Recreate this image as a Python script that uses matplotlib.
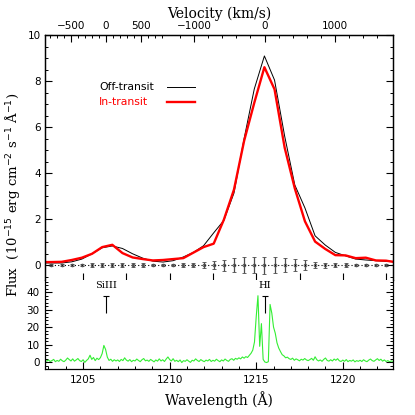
import numpy as np
import matplotlib.pyplot as plt

# binned Lyman-alpha profiles (upper panel), uniform bins
bin_start = 1202.589
bin_step = 0.5856
off_flux = [0.09, 0.09, 0.09, 0.14, 0.26, 0.49, 0.75, 0.83, 0.72, 0.49, 0.30, 0.17,
            0.13, 0.19, 0.35, 0.55, 0.84, 1.40, 1.94, 3.13, 5.50, 7.65, 9.09, 8.04,
            5.60, 3.48, 2.48, 1.27, 0.87, 0.55, 0.40, 0.26, 0.22, 0.19, 0.16, 0.14]
in_flux = [0.13, 0.13, 0.14, 0.22, 0.32, 0.49, 0.78, 0.88, 0.52, 0.33, 0.26, 0.20,
           0.22, 0.26, 0.30, 0.54, 0.78, 0.93, 1.97, 3.28, 5.40, 7.05, 8.60, 7.64,
           5.10, 3.33, 1.90, 1.02, 0.70, 0.43, 0.42, 0.30, 0.32, 0.20, 0.19, 0.12]
diff_val = [0.0] * 36
diff_err = [0.05, 0.05, 0.05, 0.05, 0.06, 0.07, 0.08, 0.08, 0.08, 0.07, 0.07, 0.06,
            0.06, 0.06, 0.07, 0.09, 0.12, 0.17, 0.24, 0.29, 0.33, 0.36, 0.37, 0.35,
            0.32, 0.27, 0.20, 0.15, 0.11, 0.08, 0.07, 0.06, 0.05, 0.05, 0.05, 0.05]

# high resolution spectrum (lower panel)
hr_start = 1202.8
hr_step = 0.1
hr_flux = [1.0, 0.5, 1.2, 0.3, 0.8, 1.5, 0.2, 0.9, 0.4, 1.6, 0.7, 0.2,
           1.1, 2.3, 1.4, 0.6, 1.8, 0.5, 1.2, 2.0, 0.8, 0.3,
           1.3, -0.2, 0.9, 1.8, 3.9, 1.5, 2.6, 0.8, 2.2, 1.4,
           2.5, 4.8, 9.5, 7.2, 2.8, 0.9, 1.6, 0.4, 1.3, 0.6,
           1.2, 0.3, 1.5, 0.8, 2.4, 1.1, 0.5, 1.4, 0.2, 1.0,
           0.6, 1.7, 0.9, 0.2, 1.3, 2.0, 0.7, 1.1, 0.4, 1.5,
           0.8, 0.1, 1.2, 0.5, 1.8, 0.6, 1.3, 0.3, 1.7, 2.9,
           1.4, 0.6, 1.9, 0.4, 1.0, 0.2, 1.2, -0.3, 0.8, 0.4,
           1.3, 0.5, -0.2, 1.0, 0.6, 1.8, 0.9, 0.3, 1.4, 0.7,
           0.2, 1.1, 0.6, 1.5, 0.3, 1.0, 0.5, 1.6, 0.8, 0.2,
           1.2, 0.6, 1.7, 0.9, 0.4, 1.5, 1.9, 1.0, 2.1, 1.6,
           2.4, 1.8, 2.9, 2.2, 3.1, 2.6, 3.8, 5.0, 6.8, 11.5,
           26.0, 38.0, 9.0, 22.0, 1.5, 0.0, -0.3, 0.2, 33.0, 28.0,
           20.0, 16.5, 11.0, 8.0, 6.0, 4.2, 3.5, 2.4, 2.8, 1.9,
           1.5, 2.2, 1.0, 1.8, 1.3, 0.7, 1.6, 1.1, 2.0, 1.2,
           0.8, 1.4, 2.1, 1.0, 3.0, 1.3, 0.6, 1.2, 0.4, 1.5,
           2.3, 0.9, 0.5, 1.3, 0.6, 1.7, 1.0, 1.9, 0.7, 0.3,
           1.1, 0.4, 1.4, 0.2, 0.9, 0.5, 1.2, 0.1, 0.8, 0.4,
           1.0, 0.3, 1.3, 0.6, 0.2, 1.1, 1.7, 0.8, 0.4, 1.2,
           1.9, 0.9, 1.6, 0.5, 1.2, 0.3, 0.8, 0.2, 0.6, 0.4]

line_names = ['SiIII', 'HI']
line_wave = [1206.31, 1215.48]
c_kms = 299792.458

# velocity scales on the top axis
si_major = [-500, 0, 500]
si_minor = list(range(-800, 900, 100))
hi_major = [-1000, 0, 1000]
hi_minor = list(range(-1200, 1700, 200))

legend_names = ['Off-transit', 'In-transit']
legend_colors = ['black', 'red']
legend_widths = [0.7, 1.7]

wave_bin = bin_start + bin_step * np.arange(len(off_flux))
wave_hr = hr_start + hr_step * np.arange(len(hr_flux))
xlim = (1202.8, 1222.9)

tick_font = 'DejaVu Sans'
label_font = 'DejaVu Serif'

fig = plt.figure(figsize=(4.15, 4.15), dpi=100)
ax1 = fig.add_axes([0.10843, 0.32530, 0.83855, 0.59036])
ax2 = fig.add_axes([0.10843, 0.11084, 0.83855, 0.21446])

# upper panel
ax1.plot(wave_bin, off_flux, color=legend_colors[0], lw=legend_widths[0])
ax1.plot(wave_bin, in_flux, color=legend_colors[1], lw=legend_widths[1])
ax1.errorbar(wave_bin, diff_val, yerr=diff_err, fmt='o', ms=2, mfc='none', mec='0.3',
             mew=0.6, ecolor='0.3', elinewidth=0.9, capsize=1.6, capthick=0.8)
ax1.plot(wave_bin, diff_val, color='black', ls=(0, (1, 2)), lw=0.8)
ax1.set_xlim(*xlim)
ax1.set_ylim(-0.65, 10)
ax1.set_yticks(np.arange(0, 11, 2))
ax1.set_yticks(np.arange(-0.5, 10.01, 0.5), minor=True)
ax1.spines['bottom'].set_visible(False)
ax1.tick_params(which='both', direction='in', left=True, right=True,
                bottom=False, top=False, labelbottom=False, labelsize=7.5, pad=3)
ax1.tick_params(which='major', length=5, width=0.8)
ax1.tick_params(which='minor', length=2.5, width=0.7)

# legend: label text on the left, line sample on the right
for k, (name, col, lw) in enumerate(zip(legend_names, legend_colors, legend_widths)):
    ly = 0.788 - 0.061 * k
    ax1.text(0.155, ly, name, color=col, transform=ax1.transAxes, ha='left',
             va='center', fontsize=7.8, family=tick_font)
    ax1.plot([0.351, 0.431], [ly, ly], color=col, lw=lw, transform=ax1.transAxes)

# top velocity axis
top = ax1.twiny()
top.set_xlim(*xlim)
major_pos, major_lab, minor_pos = [], [], []
for w0, vmaj, vmin in [(line_wave[0], si_major, si_minor), (line_wave[1], hi_major, hi_minor)]:
    for v in vmaj:
        major_pos.append(w0 * (1 + v / c_kms))
        major_lab.append(str(v).replace('-', '\u2212'))
    for v in vmin:
        minor_pos.append(w0 * (1 + v / c_kms))
top.set_xticks(major_pos)
top.set_xticklabels(major_lab)
top.set_xticks(minor_pos, minor=True)
top.spines['bottom'].set_visible(False)
top.tick_params(which='both', direction='in', labelsize=7.5, pad=3)
top.tick_params(which='major', length=5, width=0.8)
top.tick_params(which='minor', length=2.5, width=0.7)
top.set_xlabel('Velocity (km/s)', fontsize=10, family=label_font, labelpad=2)

# lower panel
ax2.plot(wave_hr, hr_flux, color='#33ee33', lw=0.8)
for name, w in zip(line_names, line_wave):
    ax2.vlines(w, 28, 38, color='black', lw=0.8)
    ax2.plot([w], [38], marker='_', ms=4, mew=0.8, color='black')
    ax2.text(w, 41, name, ha='center', va='bottom', fontsize=7, family=label_font)
ax2.set_xlim(*xlim)
ax2.set_ylim(-4, 47)
ax2.set_yticks(np.arange(0, 41, 10))
ax2.set_yticks(np.arange(-2, 47, 2), minor=True)
ax2.set_xticks(np.arange(1205, 1221, 5))
ax2.set_xticks(np.arange(1203, 1223, 1), minor=True)
ax2.spines['top'].set_visible(False)
ax2.tick_params(which='both', direction='in', left=True, right=True, top=False,
                labelsize=7.5, pad=4)
ax2.tick_params(which='major', length=5, width=0.8)
ax2.tick_params(which='minor', length=2.5, width=0.7)
ax2.set_xlabel('Wavelength (\u00c5)', fontsize=10, family=label_font, labelpad=5)

for ax in (ax1, ax2, top):
    for lab in ax.get_xticklabels() + ax.get_yticklabels():
        lab.set_family(tick_font)
    for sp in ax.spines.values():
        sp.set_linewidth(0.9)

fig.text(0.03, 0.53, 'Flux  (10$^{-15}$ erg cm$^{-2}$ s$^{-1}$ \u00c5$^{-1}$)',
         rotation=90, ha='center', va='center', fontsize=9.5, family=label_font)

fig.savefig('out.png', dpi=100)
